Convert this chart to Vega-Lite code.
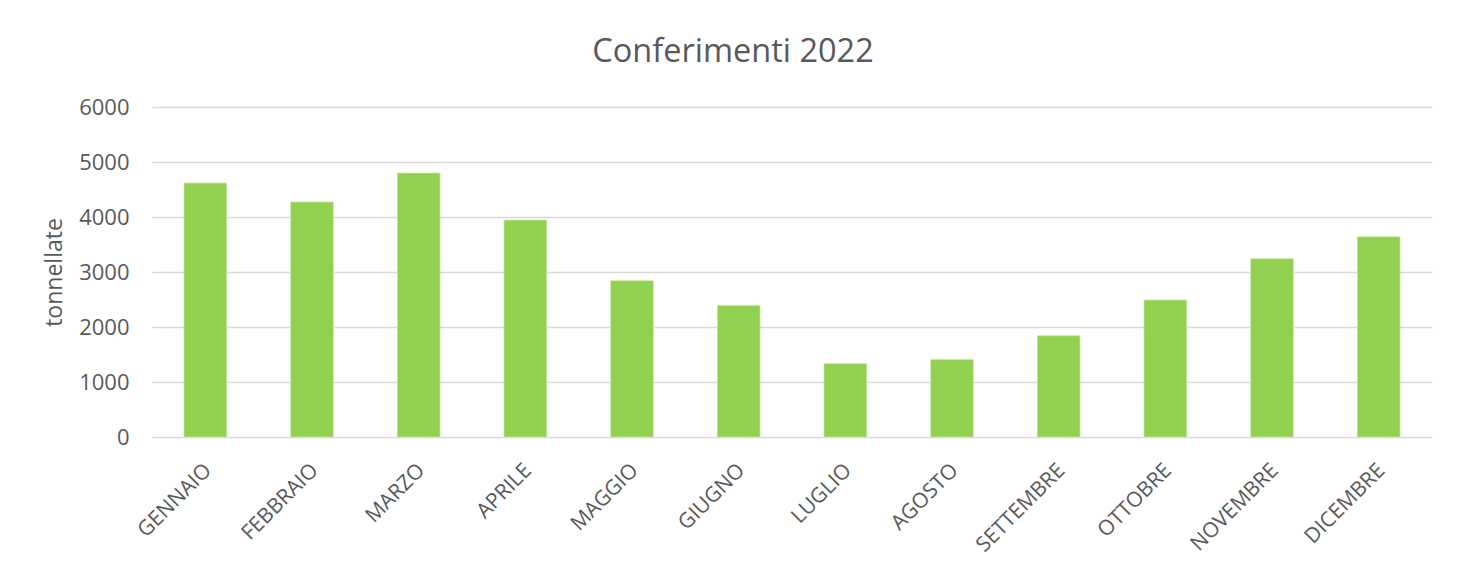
{
  "$schema": "https://vega.github.io/schema/vega-lite/v6.json",
  "autosize": "none",
  "width": 1280,
  "height": 330,
  "padding": {"left": 152, "top": 107, "right": 34, "bottom": 130},
  "background": "white",
  "title": {
    "text": "Conferimenti 2022",
    "font": "Open Sans",
    "fontSize": 32.5,
    "fontWeight": "normal",
    "color": "#595959",
    "anchor": "middle",
    "dx": -59,
    "offset": 28
  },
  "data": {
    "values": [
      {"mese": "GENNAIO", "tonnellate": 4618},
      {"mese": "FEBBRAIO", "tonnellate": 4273},
      {"mese": "MARZO", "tonnellate": 4800},
      {"mese": "APRILE", "tonnellate": 3945},
      {"mese": "MAGGIO", "tonnellate": 2842},
      {"mese": "GIUGNO", "tonnellate": 2393},
      {"mese": "LUGLIO", "tonnellate": 1333},
      {"mese": "AGOSTO", "tonnellate": 1411},
      {"mese": "SETTEMBRE", "tonnellate": 1842},
      {"mese": "OTTOBRE", "tonnellate": 2491},
      {"mese": "NOVEMBRE", "tonnellate": 3242},
      {"mese": "DICEMBRE", "tonnellate": 3642}
    ]
  },
  "mark": {"type": "bar", "color": "#92d050", "stroke": "#c9e8a8", "strokeWidth": 0.8},
  "encoding": {
    "x": {
      "field": "mese",
      "type": "nominal",
      "sort": null,
      "scale": {"paddingInner": 0.6, "paddingOuter": 0.3},
      "axis": {
        "title": null,
        "labelAngle": -45,
        "labelAlign": "right",
        "labelBaseline": "middle",
        "labelOffset": 3,
        "labelPadding": 30,
        "ticks": false,
        "domain": false,
        "grid": false,
        "labelFont": "Open Sans",
        "labelFontSize": 21,
        "labelColor": "#595959"
      }
    },
    "y": {
      "field": "tonnellate",
      "type": "quantitative",
      "scale": {"domain": [0, 6000], "nice": false},
      "axis": {
        "title": "tonnellate",
        "values": [0, 1000, 2000, 3000, 4000, 5000, 6000],
        "format": "d",
        "ticks": false,
        "domain": false,
        "grid": true,
        "gridColor": "#d9d9d9",
        "gridWidth": 1.5,
        "labelPadding": 23,
        "labelFont": "Open Sans",
        "labelFontSize": 22,
        "labelColor": "#595959",
        "titleFont": "Open Sans",
        "titleFontSize": 23,
        "titleFontWeight": "normal",
        "titleColor": "#595959",
        "titlePadding": 12
      }
    }
  },
  "config": {"view": {"stroke": null}}
}
